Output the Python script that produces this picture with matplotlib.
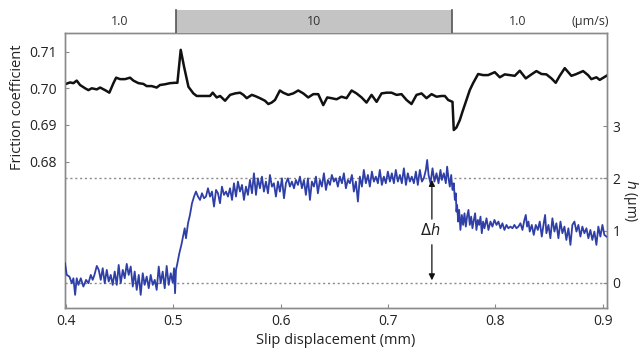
import matplotlib
matplotlib.use("Agg")
import matplotlib.pyplot as plt
import numpy as np

plt.rcParams['font.family'] = ['Open Sans', 'DejaVu Sans']

# ---------------- data ----------------
# friction coefficient (black line)
fric_x = [0.399, 0.4037, 0.4068, 0.4099, 0.4130, 0.4177, 0.4208, 0.4239, 0.4286, 0.4317,
          0.4363, 0.4403, 0.4441, 0.4466, 0.4503, 0.4549, 0.4596, 0.4627, 0.4674, 0.4720,
          0.4751, 0.4798, 0.4844, 0.4875, 0.4922, 0.4968, 0.5015, 0.5037, 0.5068, 0.5099,
          0.5140, 0.5186, 0.5217, 0.5341, 0.5366, 0.5403, 0.5435, 0.5481, 0.5528, 0.5574,
          0.5621, 0.5652, 0.5683, 0.5730, 0.5760, 0.5806, 0.5853, 0.5884, 0.5915, 0.5946,
          0.5992, 0.6023, 0.6070, 0.6116, 0.6163, 0.6210, 0.6256, 0.6303, 0.6349, 0.6396,
          0.6433, 0.6473, 0.6520, 0.6566, 0.6613, 0.6660, 0.6706, 0.6753, 0.6799, 0.6846,
          0.6893, 0.6939, 0.6986, 0.7032, 0.7079, 0.7125, 0.7172, 0.7218, 0.7265, 0.7312,
          0.7358, 0.7405, 0.7451, 0.7498, 0.7529, 0.7560, 0.7600, 0.7612, 0.7637, 0.7668,
          0.7693, 0.7730, 0.7761, 0.7792, 0.7839, 0.7885, 0.7932, 0.7994, 0.8041, 0.8087,
          0.8134, 0.8180, 0.8227, 0.8283, 0.8336, 0.8382, 0.8429, 0.8475, 0.8522, 0.8562,
          0.8599, 0.8646, 0.8708, 0.8755, 0.8817, 0.8863, 0.8894, 0.8941, 0.8972, 0.9034]
fric_y = [0.7011, 0.7016, 0.7014, 0.7021, 0.7009, 0.7000, 0.6995, 0.7000, 0.6997, 0.7002,
          0.6995, 0.6988, 0.7014, 0.7029, 0.7025, 0.7025, 0.7029, 0.7021, 0.7014, 0.7012,
          0.7006, 0.7006, 0.7002, 0.7009, 0.7011, 0.7014, 0.7015, 0.7015, 0.7105, 0.7059,
          0.7004, 0.6986, 0.6979, 0.6979, 0.6988, 0.6975, 0.6979, 0.6966, 0.6982, 0.6986,
          0.6988, 0.6982, 0.6973, 0.6982, 0.6979, 0.6973, 0.6966, 0.6957, 0.6961, 0.6968,
          0.6994, 0.6988, 0.6982, 0.6986, 0.6994, 0.6986, 0.6975, 0.6984, 0.6984, 0.6954,
          0.6975, 0.6973, 0.6970, 0.6977, 0.6973, 0.6994, 0.6986, 0.6975, 0.6961, 0.6982,
          0.6963, 0.6986, 0.6988, 0.6988, 0.6982, 0.6984, 0.6968, 0.6957, 0.6982, 0.6986,
          0.6973, 0.6984, 0.6977, 0.6979, 0.6979, 0.6968, 0.6963, 0.6886, 0.6893, 0.6913,
          0.6936, 0.6968, 0.6995, 0.7014, 0.7039, 0.7036, 0.7036, 0.7044, 0.7030, 0.7038,
          0.7036, 0.7034, 0.7048, 0.7027, 0.7038, 0.7047, 0.7039, 0.7038, 0.7027, 0.7015,
          0.7034, 0.7055, 0.7034, 0.7039, 0.7047, 0.7036, 0.7025, 0.7030, 0.7023, 0.7034]

# height change h (blue line), micrometres
h_x = [0.399, 0.4006, 0.4031, 0.4053, 0.4068, 0.4084, 0.4099, 0.4115, 0.4137, 0.4161,
       0.4186, 0.4208, 0.4230, 0.4248, 0.4264, 0.4286, 0.4304, 0.4323, 0.4341, 0.4360,
       0.4379, 0.4397, 0.4416, 0.4434, 0.4453, 0.4472, 0.4490, 0.4509, 0.4528, 0.4546,
       0.4565, 0.4583, 0.4602, 0.4621, 0.4639, 0.4658, 0.4677, 0.4695, 0.4714, 0.4732,
       0.4751, 0.4770, 0.4788, 0.4807, 0.4826, 0.4844, 0.4863, 0.4881, 0.4900, 0.4919,
       0.4937, 0.4956, 0.4975, 0.4993, 0.5006, 0.5015, 0.5024, 0.5037, 0.5055, 0.5074,
       0.5092, 0.5105, 0.5117, 0.5136, 0.5154, 0.5173, 0.5192, 0.5210, 0.5229, 0.5248,
       0.5266, 0.5285, 0.5303, 0.5322, 0.5341, 0.5359, 0.5378, 0.5397, 0.5415, 0.5434,
       0.5452, 0.5471, 0.5490, 0.5508, 0.5527, 0.5546, 0.5564, 0.5583, 0.5601, 0.5620,
       0.5639, 0.5657, 0.5676, 0.5694, 0.5713,
       0.5732, 0.5750, 0.5769, 0.5787, 0.5806, 0.5825, 0.5843, 0.5862, 0.5881, 0.5899,
       0.5918, 0.5936, 0.5955, 0.5974, 0.5992, 0.6011, 0.6030, 0.6048, 0.6067, 0.6085,
       0.6104, 0.6123, 0.6141, 0.6160, 0.6179, 0.6197, 0.6216, 0.6234, 0.6253, 0.6272,
       0.6290, 0.6309, 0.6328, 0.6346, 0.6365, 0.6383, 0.6402, 0.6421, 0.6439, 0.6458,
       0.6476, 0.6495, 0.6514, 0.6532, 0.6551, 0.6570, 0.6588, 0.6607, 0.6625, 0.6644,
       0.6663, 0.6681, 0.6700, 0.6719, 0.6737, 0.6756, 0.6774, 0.6793, 0.6812, 0.6830,
       0.6849, 0.6868, 0.6886, 0.6905, 0.6923, 0.6942, 0.6961, 0.6979, 0.6998, 0.7017,
       0.7035, 0.7054, 0.7072, 0.7091, 0.7110, 0.7128, 0.7147, 0.7166, 0.7184, 0.7203,
       0.7221, 0.7240, 0.7259, 0.7277, 0.7296, 0.7315, 0.7333, 0.7352, 0.7364, 0.7377,
       0.7395, 0.7414, 0.7432, 0.7451, 0.7470, 0.7488,
       0.7501, 0.7519, 0.7538, 0.7550, 0.7563, 0.7575, 0.7588, 0.7600, 0.7612, 0.7622,
       0.7631, 0.7637, 0.7643, 0.7653, 0.7662, 0.7674, 0.7687, 0.7699, 0.7712, 0.7724,
       0.7736, 0.7749, 0.7761, 0.7774, 0.7786, 0.7799, 0.7811, 0.7823, 0.7836, 0.7848,
       0.7861, 0.7873, 0.7885, 0.7898, 0.7917, 0.7935, 0.7954, 0.7972, 0.7991, 0.8010,
       0.8028, 0.8047, 0.8065, 0.8084, 0.8103, 0.8121, 0.8140, 0.8159, 0.8177, 0.8196,
       0.8214, 0.8233, 0.8252, 0.8270, 0.8283, 0.8295, 0.8308, 0.8320, 0.8339, 0.8357,
       0.8376, 0.8395, 0.8413, 0.8432, 0.8450, 0.8463, 0.8475, 0.8494, 0.8512, 0.8531,
       0.8550, 0.8568, 0.8587, 0.8606, 0.8624, 0.8643, 0.8661, 0.8680, 0.8699, 0.8717,
       0.8736, 0.8755, 0.8773, 0.8792, 0.8810, 0.8829, 0.8848, 0.8866, 0.8885, 0.8903,
       0.8922, 0.8941, 0.8959, 0.8978, 0.8997, 0.9015, 0.9034]
h_y = [0.376, 0.153, 0.121, -0.006, 0.089, -0.229, 0.089, -0.038, 0.089, -0.070,
       0.058, -0.006, 0.153, 0.058, 0.153, 0.325, 0.249, 0.058, 0.281, -0.006,
       0.249, 0.026, 0.153, -0.038, 0.217, -0.038, 0.344, -0.006, 0.249, 0.089,
       0.364, 0.153, 0.313, -0.070, 0.217, -0.134, 0.153, -0.229, 0.185, -0.038,
       0.121, -0.102, 0.153, -0.038, 0.058, -0.134, 0.313, -0.006, 0.217, -0.102,
       0.325, -0.038, 0.185, 0.007, 0.281, -0.197, 0.249, 0.376, 0.567, 0.727,
       0.918, 1.045, 0.854, 1.141, 1.300, 1.523, 1.651, 1.747, 1.651, 1.587,
       1.715, 1.619, 1.651, 1.810, 1.651, 1.747, 1.460, 1.778, 1.715, 1.523,
       1.842, 1.683, 1.747, 1.651, 1.810, 1.587, 1.906, 1.651, 1.938, 1.747,
       1.874, 1.587, 1.842, 1.683, 1.970,
       1.714, 2.097, 1.683, 2.001, 1.810, 2.033, 1.746, 1.938, 1.714, 2.065,
       1.842, 1.906, 1.651, 1.938, 1.746, 2.001, 1.619, 1.906, 2.001, 1.842,
       1.938, 1.810, 1.969, 1.874, 2.033, 1.810, 1.969, 1.683, 2.001, 1.587,
       1.938, 1.842, 2.033, 1.714, 1.969, 1.842, 2.097, 1.778, 1.969, 1.874,
       2.065, 1.938, 2.001, 1.842, 2.033, 1.906, 2.097, 1.810, 1.969, 1.906,
       2.065, 1.746, 1.938, 1.555, 2.033, 1.842, 2.161, 1.906, 2.065, 1.842,
       2.129, 1.938, 2.033, 1.906, 2.161, 1.874, 2.033, 1.906, 2.129, 1.938,
       2.097, 1.906, 2.161, 1.938, 2.065, 1.906, 2.192, 1.874, 2.097, 1.938,
       2.033, 1.906, 2.129, 1.874, 2.161, 1.938, 2.001, 2.161, 2.352, 2.065,
       1.906, 2.192, 1.938, 2.097, 1.906, 2.161,
       1.969, 2.097, 1.906, 2.224, 2.001, 1.842, 2.065, 1.778, 1.906, 1.587,
       1.714, 1.364, 1.491, 1.173, 1.396, 1.013, 1.300, 1.109, 1.332, 1.077,
       1.268, 1.396, 1.109, 1.268, 1.045, 1.205, 1.332, 1.013, 1.205, 1.109,
       1.268, 0.950, 1.173, 1.045, 1.236, 1.013, 1.173, 1.077, 1.205, 1.109,
       1.173, 1.045, 1.141, 1.013, 1.109, 1.045, 1.077, 1.045, 1.109, 1.045,
       1.077, 1.141, 1.013, 1.205, 1.300, 1.077, 1.173, 0.982, 1.109, 0.918,
       1.109, 1.013, 1.173, 0.886, 1.141, 1.300, 0.950, 1.109, 0.854, 1.236,
       0.982, 1.141, 0.854, 1.173, 0.950, 1.077, 0.822, 1.045, 0.727, 1.109,
       1.173, 0.982, 1.109, 0.886, 1.077, 0.950, 1.045, 0.854, 1.013, 0.822,
       0.982, 0.727, 1.077, 0.886, 1.109, 0.918, 0.886]

# sliding-velocity bands (top strip)
speed_edges = [0.5024, 0.7594]
speed_labels = ['1.0', '10', '1.0', '(µm/s)']
speed_label_x = [0.4503, 0.631, 0.8209, 0.8879]

fric_ticks = [0.68, 0.69, 0.70, 0.71]
h_ticks = [0, 1, 2, 3]
x_ticks = [0.4, 0.5, 0.6, 0.7, 0.8, 0.9]
ref_levels = [0, 2]
dh_x = 0.7408
dh_bottom, dh_top = 0.0, 2.0

# ---------------- figure ----------------
fig = plt.figure(figsize=(6.4, 3.51), dpi=100)
ax = fig.add_axes([0.1016, 0.1225, 0.8469, 0.7835])
ax2 = ax.twinx()

spine_col = '#8a8a8a'
ax.plot(fric_x, fric_y, color='#111111', lw=1.8, zorder=3)
ax.set_xlim(0.399, 0.904)
ax.set_ylim(0.640, 0.7151)
ax.set_yticks(fric_ticks)
ax.set_yticklabels([f'{t:.2f}' for t in fric_ticks])
ax.set_xticks(x_ticks)
ax.set_xticklabels([f'{t:.1f}' for t in x_ticks])

ax2.set_ylim(-0.48, 4.78)
for lv in ref_levels:
    ax2.axhline(lv, color='#8a8a8a', lw=1.0, ls=(0, (1.5, 2.0)), zorder=1)
ax2.plot(h_x, h_y, color='#2f3fa8', lw=1.3, zorder=3)
ax2.set_yticks(h_ticks)
ax2.set_yticklabels([str(t) for t in h_ticks])

for a in (ax, ax2):
    for s in a.spines.values():
        s.set_color(spine_col)
        s.set_linewidth(1.0)
    a.tick_params(direction='in', length=3, color=spine_col, labelsize=10,
                  labelcolor='#222222', pad=4)
ax.tick_params(axis='y', pad=6)

ax.set_xlabel('Slip displacement (mm)', fontsize=10.5, color='#222222', labelpad=3)
ax.set_ylabel('Friction coefficient', fontsize=10.5, color='#222222')
ax.yaxis.set_label_coords(-0.074, 0.73)
ax2.set_ylabel(r'$h$ (µm)', fontsize=10, color='#222222', rotation=270,
               va='center', ha='center', rotation_mode='anchor')
ax2.yaxis.set_label_coords(1.044, 0.39)

# delta h arrows
ax2.annotate('', xy=(dh_x, dh_top - 0.03), xytext=(dh_x, 1.22),
             arrowprops=dict(arrowstyle='-|>', color='#111111', lw=0.9,
                             mutation_scale=9, shrinkA=0, shrinkB=0))
ax2.annotate('', xy=(dh_x, dh_bottom + 0.05), xytext=(dh_x, 0.73),
             arrowprops=dict(arrowstyle='-|>', color='#111111', lw=0.9,
                             mutation_scale=9, shrinkA=0, shrinkB=0))
ax2.text(dh_x - 0.002, 1.0, r'$\Delta h$', ha='center', va='center', fontsize=10.5,
         color='#222222')

# top velocity strip
top = fig.add_axes([0.1016, 0.906, 0.8469, 0.074], sharex=ax)
top.set_ylim(0, 1)
top.axvspan(speed_edges[0], speed_edges[1], ymin=0.0, ymax=0.88, color='#c4c4c4', lw=0)
for e in speed_edges:
    top.axvline(e, ymin=0.0, ymax=0.88, color='#555555', lw=1.2)
for lx, lab in zip(speed_label_x, speed_labels):
    top.text(lx, 0.45, lab, ha='center', va='center', fontsize=9, color='#333333')
top.axis('off')

fig.savefig('out.png', dpi=100)
